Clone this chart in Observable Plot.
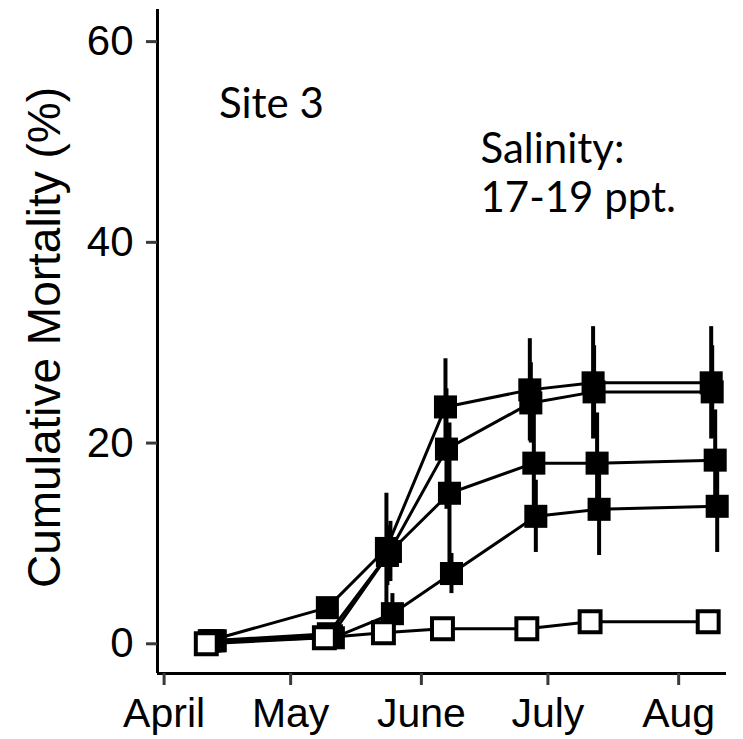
<!DOCTYPE html>
<html>
<head>
<meta charset="utf-8">
<script src="https://cdn.jsdelivr.net/npm/d3@7"></script>
<script src="https://cdn.jsdelivr.net/npm/@observablehq/plot@0.6"></script>
<style>
  html, body { margin: 0; padding: 0; background: #fff; }
  #chart { width: 743px; height: 739px; }
</style>
</head>
<body>
<div id="chart"></div>
<script>
// ---- data ----
const sampleDates = ["2018-04-11", "2018-05-09", "2018-05-23", "2018-06-06", "2018-06-26", "2018-07-11", "2018-08-08"];
const controlValues = [0.0, 0.6, 1.1, 1.5, 1.5, 2.2, 2.2];
const controlErr    = [0.3, 0.3, 0.3, 0.4, 0.4, 0.5, 0.5];
const seriesAValues = [0.3, 3.6, 9.5, 23.6, 25.3, 26.0, 26.0];
const seriesAErr    = [0.3, 0.8, 5.5, 4.8, 5.1, 5.6, 5.6];
const seriesBValues = [0.3, 1.0, 8.8, 19.4, 24.0, 25.1, 25.1];
const seriesBErr    = [0.3, 0.6, 3.0, 6.0, 4.0, 4.6, 4.6];
const seriesCValues = [0.3, 0.8, 9.2, 15.0, 18.0, 18.0, 18.3];
const seriesCErr    = [0.3, 0.5, 3.0, 7.0, 5.0, 5.0, 5.0];
const seriesDValues = [0.3, 0.6, 3.0, 7.0, 12.7, 13.4, 13.7];
const seriesDErr    = [0.3, 0.4, 2.0, 2.0, 3.6, 4.6, 4.6];

const monthTicks  = ["2018-04-01", "2018-05-01", "2018-06-01", "2018-07-01", "2018-08-01"];
const monthLabels = ["April", "May", "June", "July", "Aug"];
const yTicks = [0, 20, 40, 60];
const yLabel = "Cumulative Mortality (%)";
const siteLabel = "Site 3";
const salinityLabel = "Salinity:\n17-19 ppt.";

// ---- scales / layout constants ----
const xDomain = [new Date("2018-03-30T10:28:00Z"), new Date("2018-08-12T08:10:00Z")];
const yDomain = [-2.96, 63.2];

const toRows = (vals, errs, name) => vals.map((v, i) => ({
  date: new Date(sampleDates[i] + "T00:00:00Z"), value: v, err: errs[i], series: name
}));

const filled = [
  {rows: toRows(seriesAValues, seriesAErr, "A"), dx: 3},
  {rows: toRows(seriesBValues, seriesBErr, "B"), dx: 4},
  {rows: toRows(seriesCValues, seriesCErr, "C"), dx: 7},
  {rows: toRows(seriesDValues, seriesDErr, "D"), dx: 9}
];
const control = {rows: toRows(controlValues, controlErr, "Control"), dx: 0};
const all = [...filled, control];

const marks = [];
// axis lines
marks.push(Plot.ruleY([yDomain[0]], {stroke: "black", strokeWidth: 3}));
marks.push(Plot.ruleX([xDomain[0]], {stroke: "black", strokeWidth: 3}));
// axes
marks.push(Plot.axisY(yTicks, {
  tickSize: 11, tickPadding: 13, stroke: "#3a3a3a", strokeWidth: 3,
  fontSize: 42, fill: "black", label: null
}));
marks.push(Plot.axisX(monthTicks.map(d => new Date(d + "T00:00:00Z")), {
  tickSize: 12, tickPadding: 12, stroke: "#3a3a3a", strokeWidth: 3,
  fontSize: 41, fill: "black", label: null,
  tickFormat: (d) => monthLabels[monthTicks.indexOf(d.toISOString().slice(0, 10))]
}));
// connecting lines
for (const s of all) {
  marks.push(Plot.line(s.rows, {x: "date", y: "value", stroke: "black", strokeWidth: 3, dx: s.dx}));
}
// error bars
for (const s of all) {
  marks.push(Plot.ruleX(s.rows, {x: "date", y1: d => d.value - d.err, y2: d => d.value + d.err,
    stroke: "black", strokeWidth: 4, dx: s.dx}));
}
// filled squares
for (const s of filled) {
  marks.push(Plot.dot(s.rows, {x: "date", y: "value", symbol: "square", r: 13, fill: "black", stroke: "none", dx: s.dx}));
}
// open squares (control)
marks.push(Plot.dot(control.rows, {x: "date", y: "value", symbol: "square", r: 11.8,
  fill: "white", stroke: "black", strokeWidth: 4}));
// y title
marks.push(Plot.text([yLabel], {frameAnchor: "left", rotate: -90, dx: -112, dy: -4, fontSize: 46,
  fill: "black", textAnchor: "middle", lineAnchor: "middle"}));
// annotations
marks.push(Plot.text([siteLabel], {x: new Date("2018-04-14T00:00:00Z"), y: 52.4, textAnchor: "start",
  lineAnchor: "bottom", fontSize: 42, fontFamily: "Lato", fill: "black"}));
marks.push(Plot.text([salinityLabel], {x: new Date("2018-06-15T00:00:00Z"), y: 43.0, textAnchor: "start",
  lineAnchor: "bottom", lineHeight: 1.17, fontSize: 42, fontFamily: "Lato", fill: "black"}));

const chart = Plot.plot({
  width: 743,
  height: 739,
  marginLeft: 157,
  marginRight: 17,
  marginTop: 9,
  marginBottom: 66,
  style: {fontFamily: "'Liberation Sans', Arial, sans-serif", background: "white", color: "black"},
  x: {type: "utc", domain: xDomain, axis: null},
  y: {domain: yDomain, axis: null},
  marks
});
document.getElementById("chart").appendChild(chart);
</script>
</body>
</html>
